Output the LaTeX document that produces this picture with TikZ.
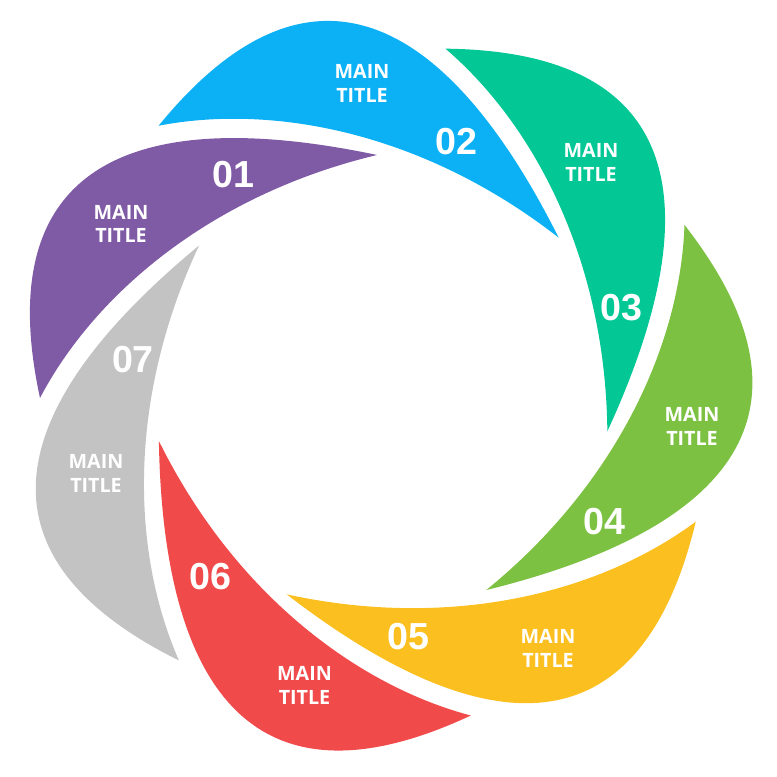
\documentclass[tikz,border=0pt]{standalone}
\usepackage{fontspec}
\setmainfont{Open Sans}
\newfontfamily\numfont{Liberation Sans}
\definecolor{cPurple}{RGB}{127,91,166}
\definecolor{cBlue}{RGB}{12,176,245}
\definecolor{cTeal}{RGB}{3,200,150}
\definecolor{cGreen}{RGB}{125,193,67}
\definecolor{cYellow}{RGB}{251,192,32}
\definecolor{cRed}{RGB}{240,74,75}
\definecolor{cGray}{RGB}{195,195,195}
\tikzset{
  petal/.pic={\fill[#1] (-5,230) .. controls (-233,278) and (-395,232) .. (-342,-13)
     .. controls (-288,90) and (-172,190) .. (-5,230) -- cycle;},
  num/.style={text=white, inner sep=0pt, font=\numfont\bfseries\fontsize{10.7}{12}\selectfont},
  ttl/.style={text=white, inner sep=0pt, align=center, font=\bfseries\fontsize{5.6}{6.8}\selectfont}
}
\begin{document}
\begin{tikzpicture}[x=0.01cm,y=0.01cm]
\useasboundingbox (0,0) rectangle (777,777);
\coordinate (c) at (382,392);
\pic[rotate=0] at (c) {petal=cPurple};
\pic[rotate=-51.4286] at (c) {petal=cBlue};
\pic[rotate=-102.857] at (c) {petal=cTeal};
\pic[rotate=-154.286] at (c) {petal=cGreen};
\pic[rotate=-205.714] at (c) {petal=cYellow};
\pic[rotate=-257.143] at (c) {petal=cRed};
\pic[rotate=-308.571] at (c) {petal=cGray};
\node[num] (n1) at (233,602) {01};
\node[ttl] (t1) at (121,553) {MAIN\\TITLE};
\node[num] (n2) at (456,635) {02};
\node[ttl] (t2) at (362,693.5) {MAIN\\TITLE};
\node[num] (n3) at (621,469) {03};
\node[ttl] (t3) at (591,614.5) {MAIN\\TITLE};
\node[num] (n4) at (604,255) {04};
\node[ttl] (t4) at (692,351) {MAIN\\TITLE};
\node[num] (n5) at (408,140) {05};
\node[ttl] (t5) at (548,129) {MAIN\\TITLE};
\node[num] (n6) at (210,200) {06};
\node[ttl] (t6) at (304.5,92) {MAIN\\TITLE};
\node[num] (n7) at (133,417) {07};
\node[ttl] (t7) at (96,303.5) {MAIN\\TITLE};
\end{tikzpicture}
\end{document}
